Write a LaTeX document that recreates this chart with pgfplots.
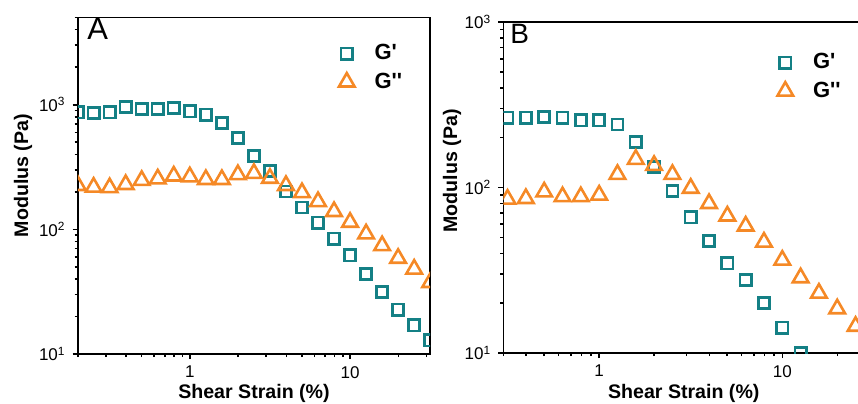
\documentclass[border=0pt]{standalone}
\usepackage{pgfplots}
\pgfplotsset{compat=1.18}
\usepackage{fontspec}
\setmainfont{Liberation Sans}

\definecolor{gp}{RGB}{20,128,133}
\definecolor{gpp}{RGB}{245,137,38}

\begin{document}
\begin{tikzpicture}
\path[use as bounding box, clip] (0,0) rectangle (429pt,201.5pt);

% panel A
\begin{axis}[
  scale only axis,
  at={(38.9pt,24.5pt)}, anchor=south west,
  width=176.2pt, height=168.2pt,
  xmode=log, ymode=log,
  xmin=0.2, xmax=31.62, ymin=10, ymax=5000,
  clip marker paths=true,
  axis line style={line width=0.8pt},
  tick align=outside, xtick pos=left, ytick pos=left,
  major tick length=2.6pt, minor tick length=1.6pt,
  tick style={black, line width=0.8pt},
  tick label style={font=\fontsize{8.5}{10}\selectfont},
  label style={font=\bfseries\fontsize{9.8}{11}\selectfont},
  xlabel={Shear Strain (\%)}, ylabel={Modulus (Pa)},
  xlabel style={at={(axis description cs:0.5,-0.131)}, anchor=base},
  ylabel style={at={(axis description cs:-0.155,0.53)}, anchor=center},
  xtick={1,10}, xticklabels={1,10},
  minor xtick={0.2,0.3,0.4,0.5,0.6,0.7,0.8,0.9,2,3,4,5,6,7,8,9,20,30},
  ytick={10,100,1000},
  yticklabels={10\textsuperscript{1},10\textsuperscript{2},10\textsuperscript{3}},
  minor ytick={20,30,40,50,60,70,80,90,200,300,400,500,600,700,800,900,2000,3000,4000,5000},
  legend cell align=left,
  legend style={draw=none, fill=none, anchor=north west, at={(0.723,0.945)},
    font=\bfseries\fontsize{11}{12}\selectfont, row sep=1pt, column sep=8pt},
]
\addplot[only marks, mark=square, mark size=2.8pt, gp, line width=1.3pt] coordinates {
  (0.2,868) (0.251,857) (0.316,868) (0.398,958) (0.501,923) (0.631,923)
  (0.794,940) (1,884) (1.259,831) (1.585,713) (1.995,540) (2.512,389)
  (3.162,293) (3.981,201) (5.012,150) (6.310,113) (7.943,84) (10,62)
  (12.59,44) (15.85,31.5) (19.95,22.7) (25.12,17.0) (31.62,12.9)
};
\addlegendentry{G\textquotesingle}
\addplot[only marks, mark=triangle, mark size=4.5pt, gpp, line width=1.3pt] coordinates {
  (0.2,225) (0.251,218) (0.316,216) (0.398,229) (0.501,247) (0.631,254)
  (0.794,268) (1,264) (1.259,251) (1.585,251) (1.995,275) (2.512,281)
  (3.162,257) (3.981,225) (5.012,197) (6.310,167) (7.943,139) (10,114)
  (12.59,92) (15.85,74) (19.95,58.6) (25.12,48) (31.62,37.5)
};
\addlegendentry{G\textquotesingle\textquotesingle}
\node[anchor=north west, inner sep=0pt, font=\fontsize{15.5}{16}\selectfont]
  at (rel axis cs:0.026,1) {A};
\end{axis}

% panel B
\begin{axis}[
  scale only axis,
  at={(251.7pt,25pt)}, anchor=south west,
  width=180.4pt, height=165.5pt,
  xmode=log, ymode=log,
  xmin=0.3, xmax=28, ymin=10, ymax=1000,
  clip marker paths=true,
  axis line style={line width=0.8pt},
  tick align=outside, xtick pos=left, ytick pos=left,
  major tick length=2.6pt, minor tick length=1.6pt,
  tick style={black, line width=0.8pt},
  tick label style={font=\fontsize{8.5}{10}\selectfont},
  label style={font=\bfseries\fontsize{9.8}{11}\selectfont},
  xlabel={Shear Strain (\%)}, ylabel={Modulus (Pa)},
  xlabel style={at={(axis description cs:0.5,-0.136)}, anchor=base},
  ylabel style={at={(axis description cs:-0.142,0.55)}, anchor=center},
  xtick={1,10}, xticklabels={1,10},
  minor xtick={0.3,0.4,0.5,0.6,0.7,0.8,0.9,2,3,4,5,6,7,8,9,20},
  ytick={10,100,1000},
  yticklabels={10\textsuperscript{1},10\textsuperscript{2},10\textsuperscript{3}},
  minor ytick={20,30,40,50,60,70,80,90,200,300,400,500,600,700,800,900},
  legend cell align=left,
  legend style={draw=none, fill=none, anchor=north west, at={(0.742,0.93)},
    font=\bfseries\fontsize{11}{12}\selectfont, row sep=1pt, column sep=8pt},
]
\addplot[only marks, mark=square, mark size=2.8pt, gp, line width=1.3pt] coordinates {
  (0.316,264) (0.398,264) (0.501,267) (0.631,264) (0.794,255) (1,255)
  (1.259,240) (1.585,188) (1.995,133) (2.512,95) (3.162,66) (3.981,47.6)
  (5.012,34.8) (6.310,27.6) (7.943,20) (10,14.2) (12.59,10.0)
};
\addlegendentry{G\textquotesingle}
\addplot[only marks, mark=triangle, mark size=4.5pt, gpp, line width=1.3pt] coordinates {
  (0.316,85) (0.398,85.8) (0.501,94) (0.631,88) (0.794,88) (1,90)
  (1.259,120) (1.585,148) (1.995,136) (2.512,120) (3.162,99) (3.981,80)
  (5.012,67.3) (6.310,58.5) (7.943,46.8) (10,36.4) (12.59,28.5)
  (15.85,23) (19.95,18.5) (25.12,14.5)
};
\addlegendentry{G\textquotesingle\textquotesingle}
\node[anchor=north west, inner sep=0pt, font=\fontsize{14}{15}\selectfont]
  at (rel axis cs:0.018,0.995) {B};
\end{axis}
\end{tikzpicture}
\end{document}
